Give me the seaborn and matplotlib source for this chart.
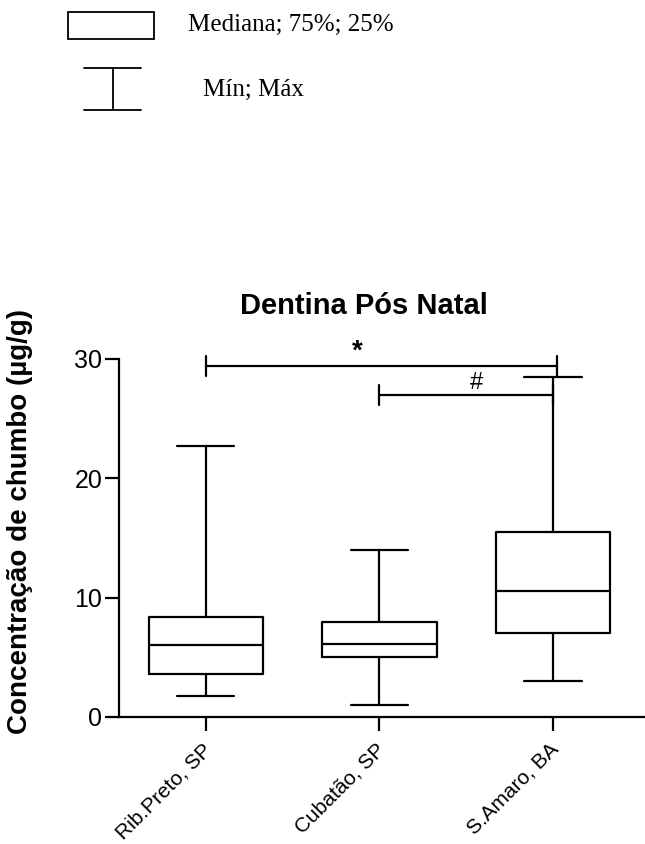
import numpy as np
import pandas as pd
import matplotlib
matplotlib.use("Agg")
import matplotlib.pyplot as plt
import matplotlib.transforms as mtransforms
from matplotlib.patches import Rectangle
from matplotlib.lines import Line2D
import seaborn as sns

# Five-number summaries (mín, 25%, mediana, 75%, máx) per site, µg/g
groups = ["Rib.Preto, SP", "Cubatão, SP", "S.Amaro, BA"]
rib_preto = [1.8, 3.6, 6.0, 8.4, 22.7]
cubatao = [1.0, 5.0, 6.1, 8.0, 14.0]
santo_amaro = [3.0, 7.0, 10.6, 15.5, 28.5]

# significance brackets: (from group, to group, height, symbol)
brackets = [(0, 2, 29.4, "*"), (1, 2, 27.0, "#")]

y_ticks = [0, 10, 20, 30]

df = pd.DataFrame({
    "local": np.repeat(groups, 5),
    "chumbo": rib_preto + cubatao + santo_amaro,
})

sns.set_theme(style="ticks")
plt.rcParams["font.family"] = ["Liberation Sans", "DejaVu Sans"]
plt.rcParams["text.color"] = "black"

fig = plt.figure(figsize=(6.45, 8.44), dpi=100)
ax = fig.add_axes([119 / 645, 1 - 717 / 844, 526 / 645, (717 - 359) / 844])

sns.boxplot(
    data=df, x="local", y="chumbo", ax=ax,
    whis=(0, 100), width=0.66, fill=False, color="black",
    linewidth=1.6, showfliers=False,
)

ax.set_xlim(-0.5, 2.53)
ax.set_ylim(0, 30)
ax.set_yticks(y_ticks)
ax.set_xlabel("")
ax.set_ylabel("")
for side in ("top", "right"):
    ax.spines[side].set_visible(False)
for side in ("left", "bottom"):
    ax.spines[side].set_linewidth(1.6)
    ax.spines[side].set_color("black")
ax.tick_params(axis="both", colors="black", width=1.6, length=10)
ax.tick_params(axis="y", labelsize=18, pad=2)
ax.tick_params(axis="x", labelsize=15, pad=5)
shift = mtransforms.ScaledTranslation(-4 / 100, -2 / 100, fig.dpi_scale_trans)
for lbl in ax.get_xticklabels():
    lbl.set_rotation(45)
    lbl.set_ha("right")
    lbl.set_rotation_mode("anchor")
    lbl.set_transform(lbl.get_transform() + shift)

# significance brackets with their symbols
symbol_x = {"*": 0.87, "#": 1.56}
symbol_size = {"*": 20, "#": 17}
for g0, g1, h, sym in brackets:
    x1 = g1 + 0.025 if sym == "*" else g1
    ax.plot([g0, x1], [h, h], color="black", lw=1.6, clip_on=False)
    for xv in (g0, x1):
        ax.plot([xv, xv], [h - 0.85, h + 0.85], color="black", lw=1.6, clip_on=False)
    ax.text(symbol_x[sym], h + 0.1, sym, ha="center", va="bottom",
            fontsize=symbol_size[sym], fontweight="bold" if sym == "*" else "normal",
            color="black")

fig.text(364 / 645, 1 - 306 / 844, "Dentina Pós Natal", ha="center", va="center",
         fontsize=21, fontweight="bold", color="black")
fig.text(20 / 645, 1 - 522 / 844, "Concentração de chumbo (µg/g)", ha="center",
         va="center", rotation=90, fontsize=20, fontweight="bold", color="black")

# key for the box and whisker symbols
W, H = 645, 844
fig.add_artist(Rectangle((68 / W, 1 - 39 / H), 86 / W, 27 / H, transform=fig.transFigure,
                         fill=False, edgecolor="black", lw=1.3))
for yy in (68, 110):
    fig.add_artist(Line2D([84 / W, 141 / W], [1 - yy / H, 1 - yy / H],
                          transform=fig.transFigure, color="black", lw=1.3))
fig.add_artist(Line2D([113 / W, 113 / W], [1 - 68 / H, 1 - 110 / H],
                      transform=fig.transFigure, color="black", lw=1.3))
fig.text(188 / W, 1 - 25 / H, "Mediana; 75%; 25%", ha="left", va="center",
         fontsize=18, color="black", family=["Liberation Serif", "DejaVu Serif"])
fig.text(203 / W, 1 - 90 / H, "Mín; Máx", ha="left", va="center",
         fontsize=18, color="black", family=["Liberation Serif", "DejaVu Serif"])

fig.savefig("out.png", dpi=100, facecolor="white")
